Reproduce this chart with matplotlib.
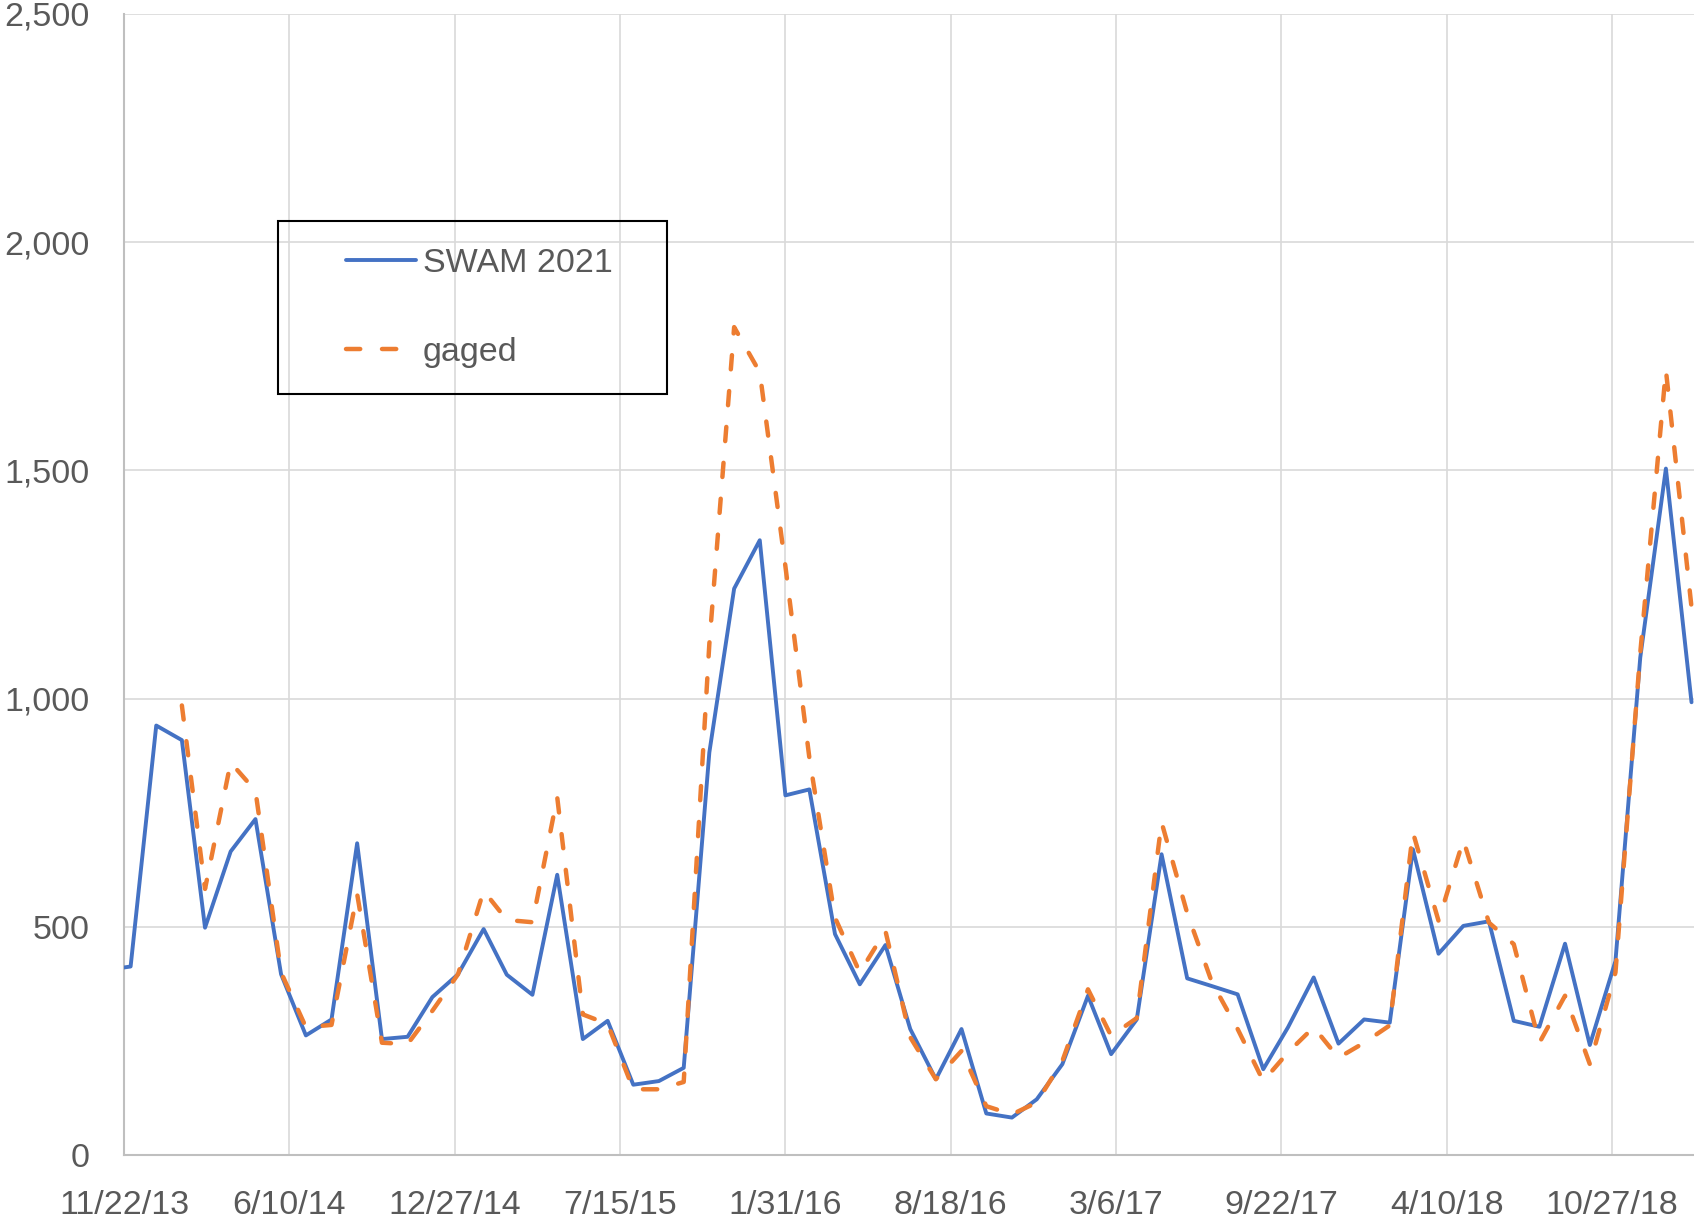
import matplotlib
matplotlib.use("Agg")
import matplotlib.pyplot as plt
import matplotlib.dates as mdates
from matplotlib.ticker import FuncFormatter, FixedLocator
from matplotlib.patches import Rectangle
import numpy as np
import pandas as pd

# ---------------- data ----------------
dates = pd.date_range("2013-10-31", "2019-01-31", freq="ME")

swam_2021 = [405, 413, 941, 909, 498, 665, 736, 396, 262, 297, 683, 254, 259, 346,
             396, 495, 395, 351, 614, 254, 294, 154, 162, 191, 882, 1241, 1347, 788,
             801, 484, 374, 460, 276, 166, 276, 91, 82, 122, 199, 349, 221, 297, 659,
             387, 370, 352, 188, 280, 389, 244, 297, 290, 670, 441, 502, 512, 294, 281,
             463, 241, 425, 1090, 1504, 992]

gaged = [np.nan, np.nan, np.nan, 985, 583, 860, 798, 400, 280, 285, 572, 246, 243, 316,
         396, 579, 515, 510, 784, 308, 287, 144, 144, 160, 1120, 1814, 1715, 1290,
         870, 520, 400, 491, 258, 166, 228, 107, 89, 115, 206, 363, 261, 300, 729,
         530, 378, 276, 162, 225, 280, 213, 246, 284, 707, 513, 690, 509, 462, 246,
         349, 199, 400, 1100, 1720, 1200]

series_labels = ["SWAM 2021", "gaged"]
x_start = pd.Timestamp("2013-11-22")
x_end = pd.Timestamp("2019-02-03")
x_tick_step_days = 200
y_ticks = [0, 500, 1000, 1500, 2000, 2500]

# ---------------- figure ----------------
plt.rcParams["font.family"] = ["Liberation Sans", "DejaVu Sans"]
W, H = 1694, 1222
fig = plt.figure(figsize=(W / 100, H / 100), dpi=100)
ax = fig.add_axes([124 / W, (H - 1155) / H, 1 - 124 / W, (1155 - 14) / H])

blue = "#4472C4"
orange = "#ED7D31"
txt = "#595959"

ax.plot(dates, swam_2021, color=blue, lw=2.8, solid_joinstyle="round",
        solid_capstyle="round", label=series_labels[0], zorder=3)
ax.plot(dates, gaged, color=orange, lw=3.2, dashes=(3.2, 4.9),
        dash_capstyle="round", dash_joinstyle="round", label=series_labels[1], zorder=4)

ax.set_xlim(x_start, x_end)
ax.set_ylim(0, 2500)

xticks = pd.date_range(x_start, x_end, freq=f"{x_tick_step_days}D")
ax.xaxis.set_major_locator(FixedLocator(mdates.date2num(xticks)))
ax.xaxis.set_major_formatter(FuncFormatter(
    lambda v, p: (lambda d: f"{d.month}/{d.day}/{d:%y}")(mdates.num2date(v))))
ax.yaxis.set_major_locator(FixedLocator(y_ticks))
ax.yaxis.set_major_formatter(FuncFormatter(lambda v, p: f"{int(v):,}"))

ax.grid(True, color="#D9D9D9", lw=1.2, zorder=0)
ax.set_axisbelow(True)
for s in ["top", "right"]:
    ax.spines[s].set_visible(False)
for s in ["left", "bottom"]:
    ax.spines[s].set_color("#BFBFBF")
    ax.spines[s].set_linewidth(1.5)

ax.tick_params(axis="both", length=0, labelsize=24.5, labelcolor=txt)
ax.tick_params(axis="x", pad=25)
ax.tick_params(axis="y", pad=25)

# legend
leg = ax.legend(loc="center left", bbox_to_anchor=(346 / W, 1 - 308 / H),
                bbox_transform=fig.transFigure, frameon=False, fontsize=24.5,
                borderpad=0, borderaxespad=0, handlelength=2.05,
                handletextpad=0.2, labelspacing=1.7)
for t in leg.get_texts():
    t.set_color(txt)
fig.patches.append(Rectangle((278 / W, 1 - 394 / H), (667 - 278) / W, (394 - 221) / H,
                             transform=fig.transFigure, fill=False,
                             edgecolor="black", lw=1.5, zorder=10))

fig.savefig("out.png", dpi=100)
